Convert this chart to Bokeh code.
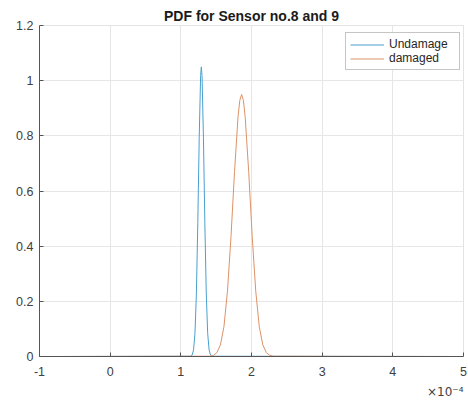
from bokeh.plotting import figure
from bokeh.models import Range1d, FixedTicker, Legend, LegendItem, Title
from bokeh.embed import file_html
from bokeh.resources import INLINE

# x values in units of 1e-4
undamage_x = [-0.82, 1.14, 1.16, 1.18, 1.20, 1.22, 1.24, 1.26, 1.28, 1.29,
              1.30, 1.32, 1.34, 1.36, 1.38, 1.40, 1.42, 1.44, 4.92]
undamage_y = [0.0, 0.001, 0.005, 0.024, 0.084, 0.227, 0.481, 0.793, 1.018, 1.05,
              1.018, 0.793, 0.481, 0.227, 0.084, 0.024, 0.005, 0.001, 0.0]

damaged_x = [-0.82, 1.41, 1.46, 1.51, 1.56, 1.61, 1.66, 1.71, 1.76, 1.81, 1.835, 1.86,
             1.885, 1.91, 1.96, 2.01, 2.06, 2.11, 2.16, 2.21, 2.26, 2.31, 4.92]
damaged_y = [0.0, 0.001, 0.004, 0.014, 0.042, 0.108, 0.237, 0.435, 0.671, 0.871, 0.929, 0.95,
             0.929, 0.871, 0.671, 0.435, 0.237, 0.108, 0.042, 0.014, 0.004, 0.001, 0.0]

x_ticks = [-1, 0, 1, 2, 3, 4, 5]
x_tick_labels = ["-1", "0", "1", "2", "3", "4", "5"]
y_ticks = [0, 0.2, 0.4, 0.6, 0.8, 1.0, 1.2]
y_tick_labels = ["0", "0.2", "0.4", "0.6", "0.8", "1", "1.2"]
title_text = "PDF for Sensor no.8 and 9"
exponent_text = "\u00d710\u207b\u2074"
series_names = ["Undamage", "damaged"]

FONT = "Liberation Sans"
AX = "#555555"

p = figure(width=468, height=403, output_backend="svg", toolbar_location=None,
           x_range=Range1d(-1, 5), y_range=Range1d(0, 1.2),
           min_border_left=39, min_border_right=5, min_border_top=25, min_border_bottom=47)
p.outline_line_color = "#e3e3e3"
p.background_fill_color = "white"
p.border_fill_color = "white"

r1 = p.line(undamage_x, undamage_y, line_color="#4a9fd0", line_width=1)
r2 = p.line(damaged_x, damaged_y, line_color="#dc9266", line_width=1)

for ax in (p.xaxis[0], p.yaxis[0]):
    ax.axis_line_color = AX
    ax.major_tick_line_color = AX
    ax.minor_tick_line_color = None
    ax.major_tick_in = 4
    ax.major_tick_out = 0
    ax.major_label_text_font = FONT
    ax.major_label_text_font_size = "12.5px"
    ax.major_label_text_color = "#404040"

p.xaxis[0].ticker = FixedTicker(ticks=x_ticks)
p.yaxis[0].ticker = FixedTicker(ticks=y_ticks)
p.xaxis[0].major_label_overrides = {t: l for t, l in zip(x_ticks, x_tick_labels)}
p.yaxis[0].major_label_overrides = {t: l for t, l in zip(y_ticks, y_tick_labels)}
p.xaxis[0].major_label_standoff = 10
p.yaxis[0].major_label_standoff = 6

p.xgrid.ticker = FixedTicker(ticks=x_ticks)
p.ygrid.ticker = FixedTicker(ticks=y_ticks)
for g in (p.xgrid[0], p.ygrid[0]):
    g.grid_line_color = "#e6e6e6"
    g.grid_line_width = 1

legend = Legend(items=[LegendItem(label=series_names[0], renderers=[r1]),
                       LegendItem(label=series_names[1], renderers=[r2])],
                location=(306, 286))
legend.label_text_font = FONT
legend.label_text_font_size = "12px"
legend.label_text_color = "#262626"
legend.border_line_color = "#8c8c8c"
legend.border_line_width = 1
legend.background_fill_alpha = 1
legend.glyph_width = 34
legend.glyph_height = 13
legend.label_height = 13
legend.label_width = 66
legend.label_standoff = 5
legend.spacing = 0
legend.padding = 4
legend.margin = 0
p.add_layout(legend)

p.title.text = title_text
p.title.text_font = FONT
p.title.text_font_size = "14px"
p.title.text_font_style = "bold"
p.title.text_color = "#1a1a1a"
p.title.align = "center"
p.title.standoff = 3

exp_title = Title(text=exponent_text, align="right", text_font="DejaVu Sans",
                  text_font_size="12px", text_font_style="normal",
                  text_color="#404040", standoff=8)
p.add_layout(exp_title, "below")

open("out.html", "w").write(file_html(p, INLINE))
